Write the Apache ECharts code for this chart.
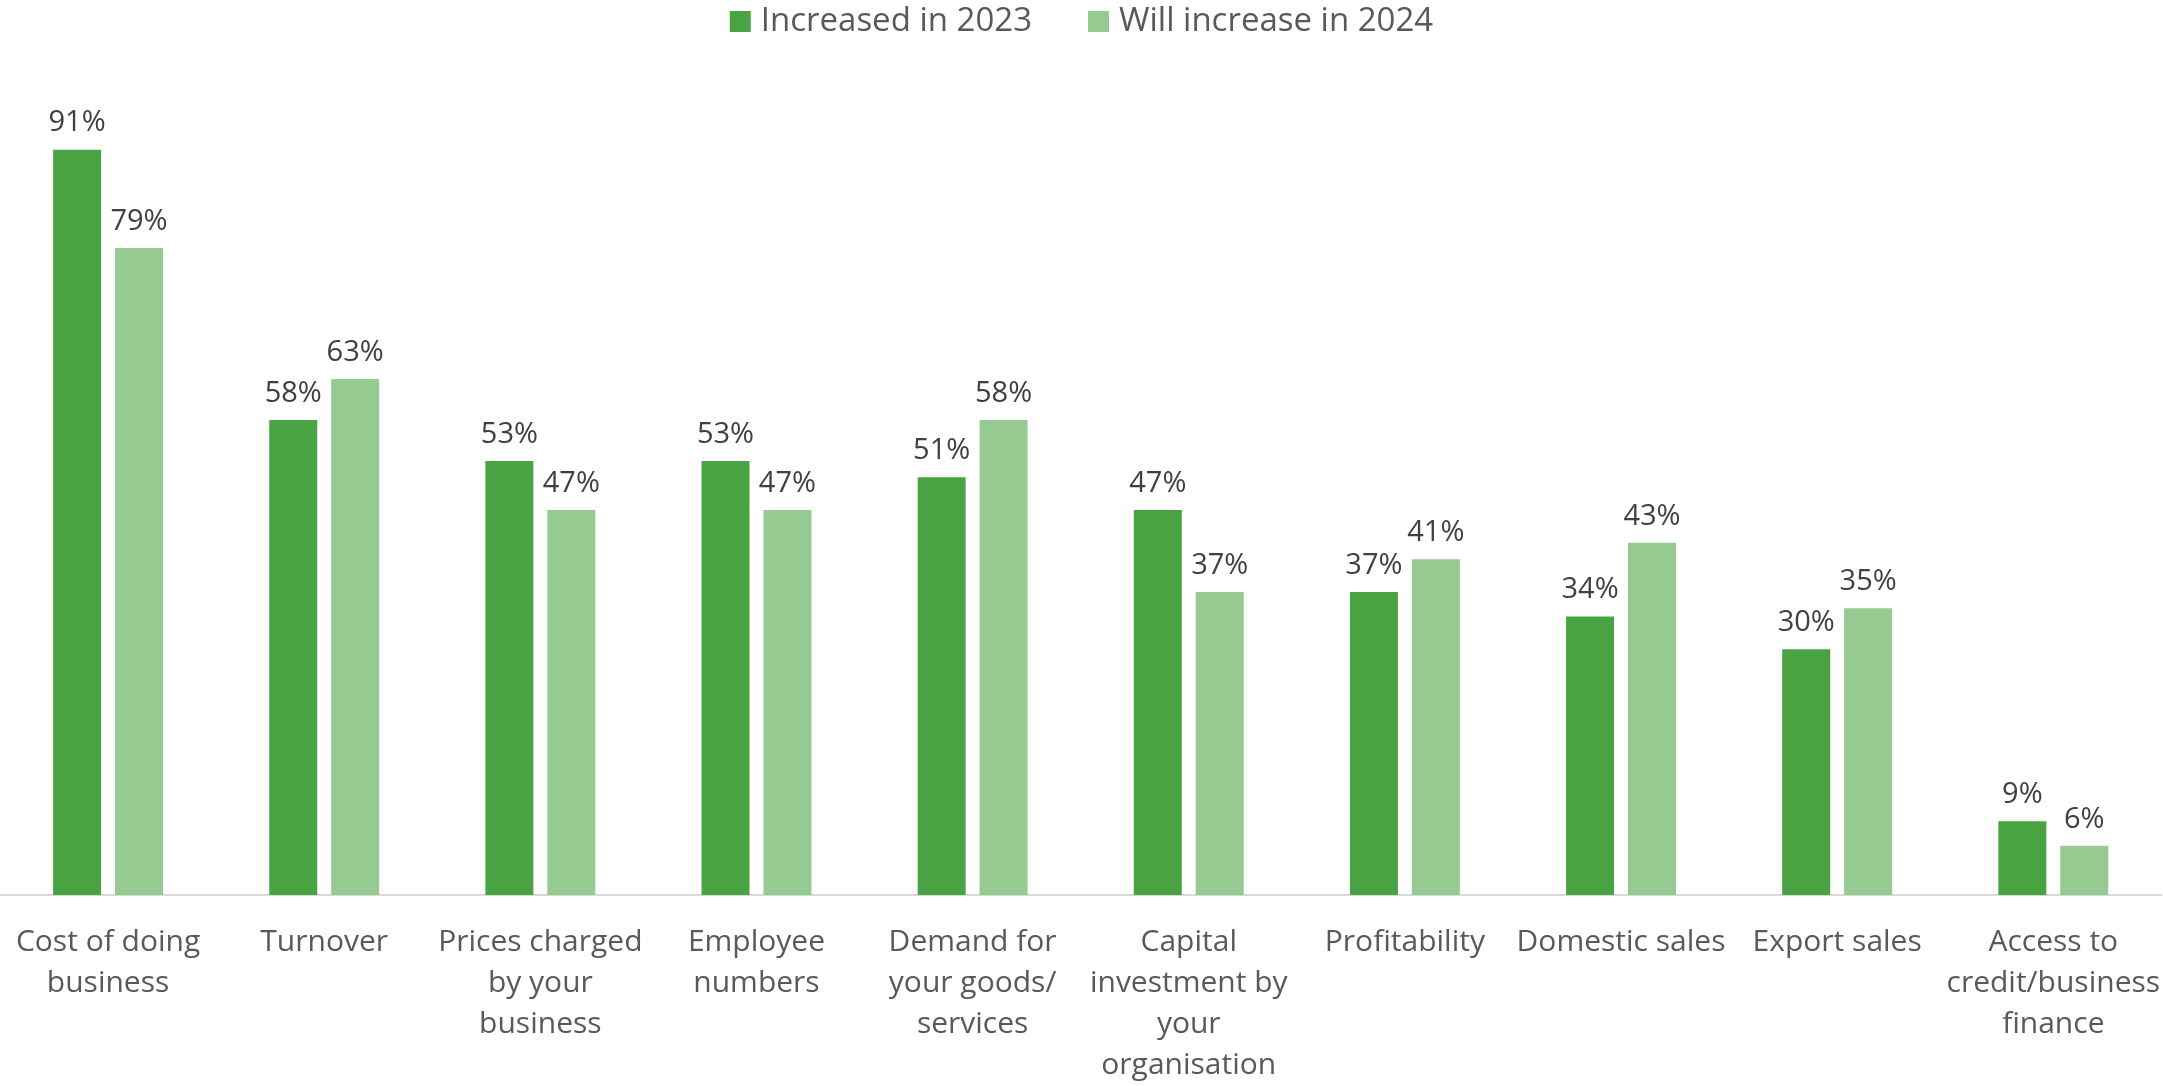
<!DOCTYPE html>
<html>
<head>
<meta charset="utf-8">
<script src="https://cdn.jsdelivr.net/npm/echarts@6/dist/echarts.min.js"></script>
<style>
  html, body { margin: 0; padding: 0; background: #fff; }
  #chart { width: 2163px; height: 1086px; }
</style>
</head>
<body>
<div id="chart"></div>
<script>
// categories (line breaks as in the original)
const categories = [
  "Cost of doing\nbusiness",
  "Turnover",
  "Prices charged\nby your\nbusiness",
  "Employee\nnumbers",
  "Demand for\nyour goods/\nservices",
  "Capital\ninvestment by\nyour\norganisation",
  "Profitability",
  "Domestic sales",
  "Export sales",
  "Access to\ncredit/business\nfinance"
];
const increased2023 = [91, 58, 53, 53, 51, 47, 37, 34, 30, 9];
const willIncrease2024 = [79, 63, 47, 47, 58, 37, 41, 43, 35, 6];

const myChart = echarts.init(document.getElementById("chart"));

const labelStyle = {
  show: true,
  position: "top",
  distance: 12,
  formatter: "{c}%",
  color: "#404040",
  fontSize: 29,
  fontFamily: "Open Sans",
};

const option = {
  animation: false,
  textStyle: { fontFamily: "Open Sans" },
  legend: {
    top: 0,
    left: "center",
    itemWidth: 21,
    itemHeight: 21,
    itemGap: 56,
    icon: "rect",
    textStyle: {
      fontSize: 33,
      color: "#595959",
      fontFamily: "Open Sans",
      padding: [0, 0, 0, 5],
    },
    data: ["Increased in 2023", "Will increase in 2024"],
  },
  grid: { left: 0, right: 0, top: 76, bottom: 188, containLabel: false },
  xAxis: {
    type: "category",
    data: categories,
    axisLine: { lineStyle: { color: "#d9d9d9", width: 2 } },
    axisTick: { show: false },
    axisLabel: {
      interval: 0,
      margin: 27,
      fontSize: 30,
      lineHeight: 41,
      color: "#595959",
      fontFamily: "Open Sans",
      align: "center",
    },
  },
  yAxis: {
    type: "value",
    min: 0,
    max: 100,
    show: false,
    splitLine: { show: false },
  },
  series: [
    {
      name: "Increased in 2023",
      type: "bar",
      barWidth: 48,
      barGap: "29%",
      itemStyle: { color: "#4aa342" },
      label: labelStyle,
      data: increased2023,
    },
    {
      name: "Will increase in 2024",
      type: "bar",
      barWidth: 48,
      itemStyle: { color: "#95cb91" },
      label: labelStyle,
      data: willIncrease2024,
    },
  ],
};

myChart.setOption(option);
</script>
</body>
</html>
